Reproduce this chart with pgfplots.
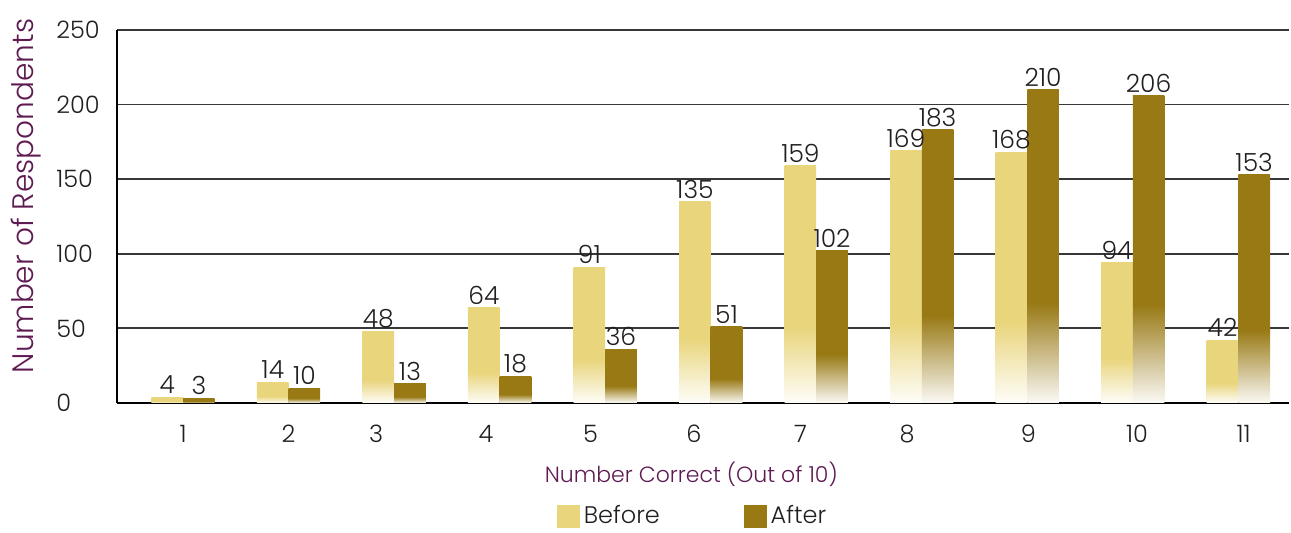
\documentclass[border=0pt]{standalone}
\usepackage{pgfplots}
\pgfplotsset{compat=1.18}
\usepackage{fontspec}
\setmainfont{Poppins Light}
\definecolor{beforecol}{RGB}{233,213,124}
\definecolor{aftercol}{RGB}{152,121,20}
\definecolor{labpurple}{RGB}{94,27,82}
\definecolor{txtgray}{RGB}{35,31,32}
\definecolor{gridgray}{RGB}{55,55,55}
\pgfdeclareverticalshading{beforefade}{100bp}{color(0bp)=(beforecol!4!white); color(25bp)=(beforecol!4!white); color(41bp)=(beforecol); color(100bp)=(beforecol)}
\pgfdeclareverticalshading{afterfade}{100bp}{color(0bp)=(aftercol!4!white); color(25bp)=(aftercol!4!white); color(41bp)=(aftercol); color(100bp)=(aftercol)}
\pgfplotsset{/pgf/number format/assume math mode=true}
\pgfplotstableread{
x before after
1 4 3
2 14 10
3 48 13
4 64 18
5 91 36
6 135 51
7 159 102
8 169 183
9 168 210
10 94 206
11 42 153
}\datatable
\begin{document}
\begin{tikzpicture}
\begin{axis}[
  at={(0,0)}, anchor=south west,
  scale only axis, width=586pt, height=186.5pt,
  xmin=0.374, xmax=11.48, ymin=0, ymax=250,
  ytick={0,50,100,150,200,250},
  xtick={1,2,2.83,3.87,4.86,5.84,6.85,7.86,9.01,10.04,11.05},
  xticklabels={1,2,3,4,5,6,7,8,9,10,11},
  axis x line*=bottom, axis y line*=left,
  ymajorgrids, major grid style={draw=gridgray, line width=0.9pt},
  axis line style={line width=1.1pt, draw=black},
  major tick length=0pt,
  tick label style={font=\fontsize{12}{14}\selectfont, text=txtgray},
  yticklabel style={anchor=west, inner sep=0pt, xshift=-30.5pt},
  xticklabel style={anchor=north, inner sep=0pt, yshift=-11pt},
  ylabel={Number of Respondents},
  every axis y label/.style={at={(axis description cs:-0.0776,0.555)}, rotate=90, anchor=center, font=\fontsize{14.8}{17}\selectfont, text=labpurple},
  xlabel={Number Correct (Out of 10)},
  every axis x label/.style={at={(axis description cs:0.49,-0.19)}, anchor=center, font=\fontsize{11}{13}\selectfont, text=labpurple},
  legend style={at={(axis description cs:0.492,-0.303)}, anchor=center, draw=none, fill=none, legend columns=2, font=\fontsize{12}{14}\selectfont, text=txtgray, inner sep=1pt, /tikz/every even column/.append style={column sep=40pt}},
  nodes near coords style={font=\fontsize{12.5}{14}\selectfont, text=txtgray, inner sep=1.5pt, anchor=south},
]
\addlegendimage{legend image code/.code={\fill[beforecol] (0pt,-5.5pt) rectangle (11pt,5.5pt);}}
\addlegendentry{Before}
\addlegendimage{legend image code/.code={\fill[aftercol] (0pt,-5.5pt) rectangle (11pt,5.5pt);}}
\addlegendentry{After}
\pgfplotsinvokeforeach{1,2,3,4,5,6,7,8,9,10,11}{
\addplot[ybar, bar width=0.3, bar shift=-0.15, draw=none, shading=beforefade, forget plot,
  restrict x to domain=#1:#1, nodes near coords, every node near coord/.append style={xshift=-7.9pt}]
  table[x=x, y=before] {\datatable};
\addplot[ybar, bar width=0.3, bar shift=0.15, draw=none, shading=afterfade, forget plot,
  restrict x to domain=#1:#1, nodes near coords, every node near coord/.append style={xshift=7.9pt}]
  table[x=x, y=after] {\datatable};
}
\end{axis}
\pgfresetboundingbox
\path[use as bounding box] (-58.5pt,-65pt) rectangle (587pt,201.5pt);
\end{tikzpicture}
\end{document}
